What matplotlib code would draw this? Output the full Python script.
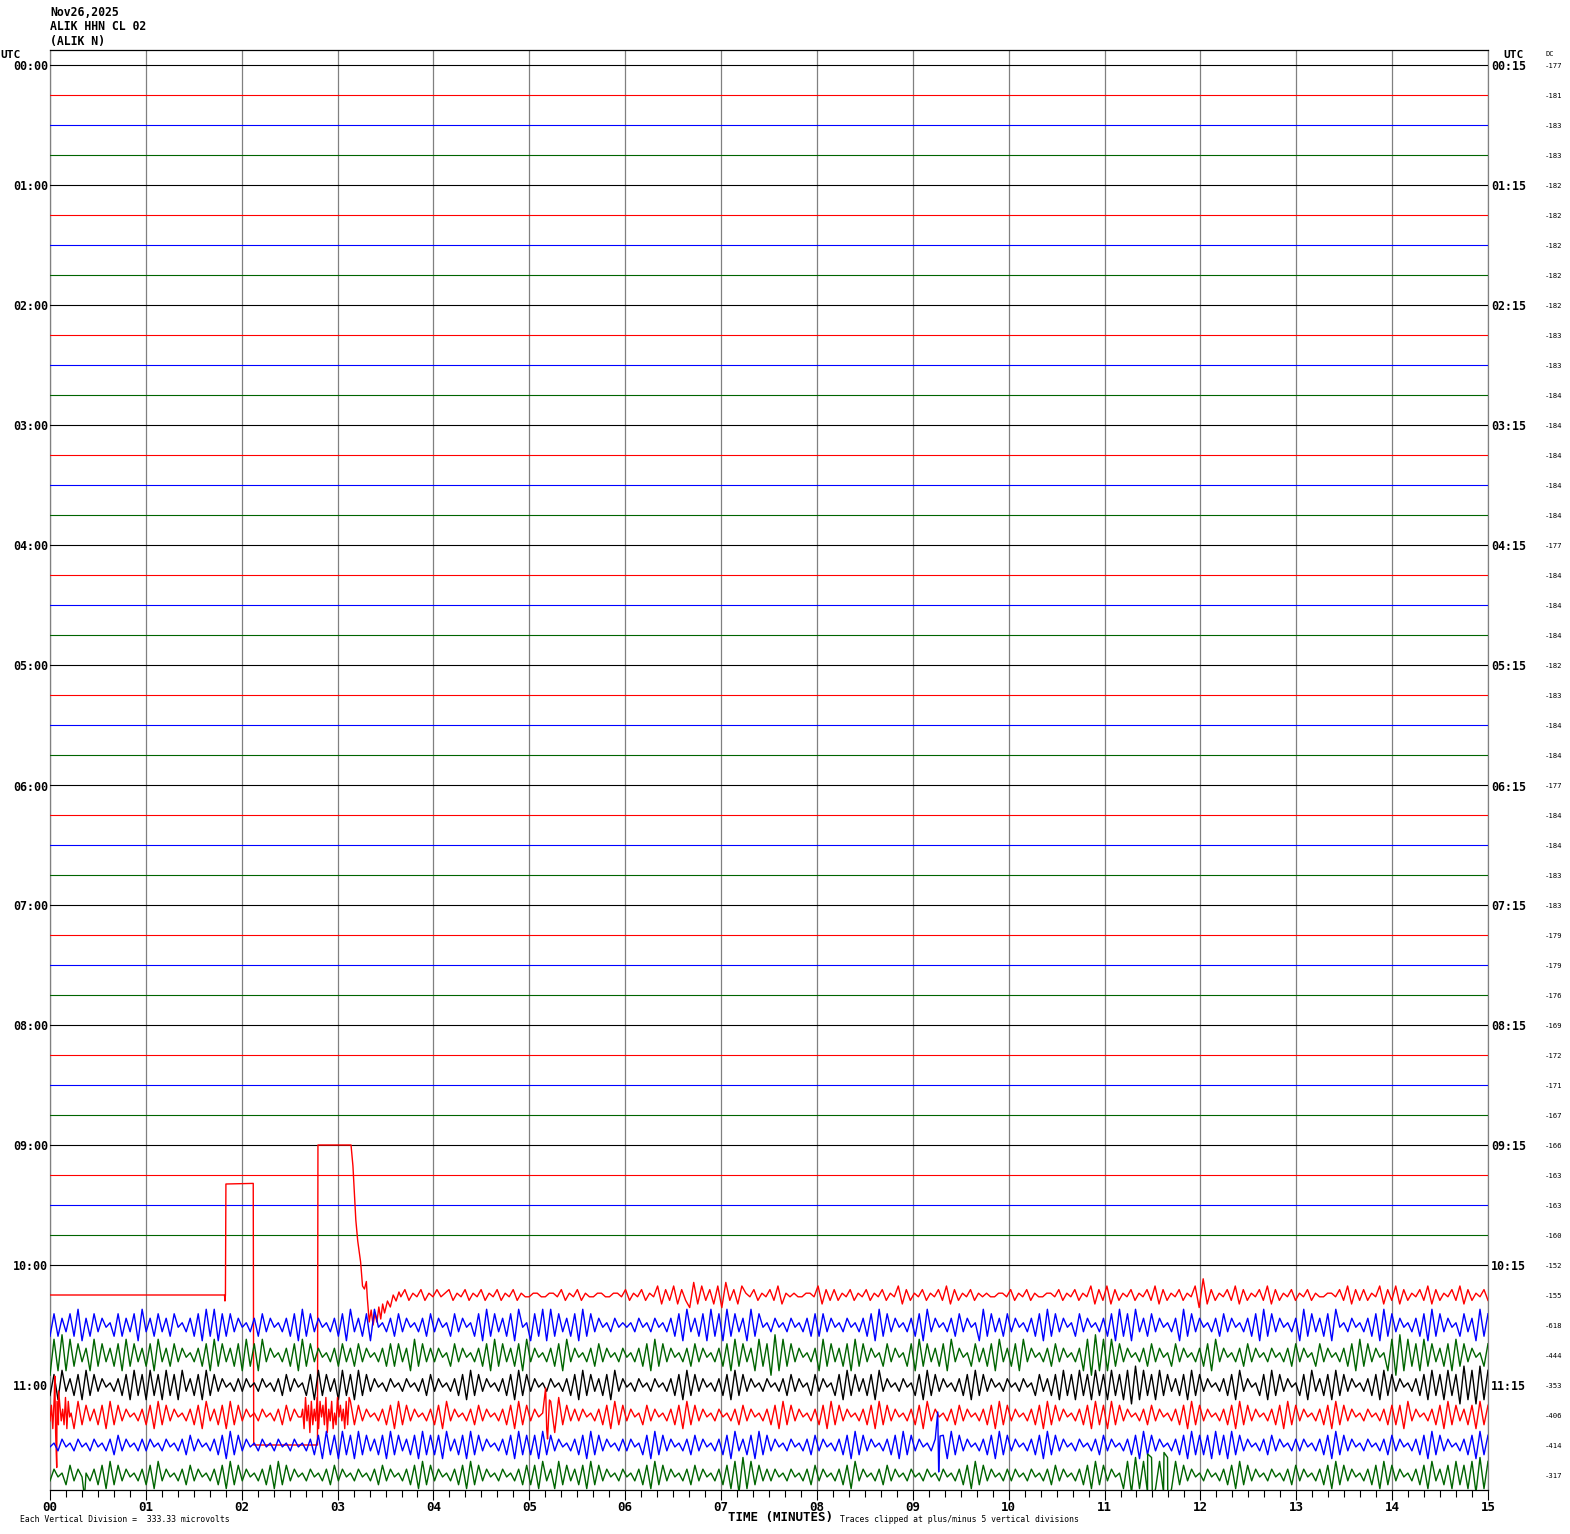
import numpy as np
import matplotlib
matplotlib.use("Agg")
import matplotlib.pyplot as plt

# ---------------- data ----------------
header_lines = ["Nov26,2025", "ALIK HHN CL 02", "(ALIK N)"]
left_hour_labels = ["00:00", "01:00", "02:00", "03:00", "04:00", "05:00",
                    "06:00", "07:00", "08:00", "09:00", "10:00", "11:00"]
right_hour_labels = ["00:15", "01:15", "02:15", "03:15", "04:15", "05:15",
                     "06:15", "07:15", "08:15", "09:15", "10:15", "11:15"]
minute_labels = ["00", "01", "02", "03", "04", "05", "06", "07",
                 "08", "09", "10", "11", "12", "13", "14", "15"]
dc_values = [-177, -181, -183, -183, -182, -182, -182, -182,
             -182, -183, -183, -184, -184, -184, -184, -184,
             -177, -184, -184, -184, -182, -183, -184, -184,
             -177, -184, -184, -183, -183, -179, -179, -176,
             -169, -172, -171, -167, -166, -163, -163, -160,
             -152, -155, -618, -444, -353, -406, -414, -317]
row_colors = ["#000000", "#ff0000", "#0000ff", "#006400"]
n_rows = 48

# row 41 (10:15, red): step transient (minutes, divisions)
red41_break_t = [0.0, 1.82, 1.825, 1.83, 1.835, 2.12, 2.125, 2.79, 2.795, 3.14,
                 3.16, 3.19, 3.21, 3.24, 3.26, 3.28, 3.30, 3.31, 3.33, 3.35,
                 3.37, 3.39, 3.41, 3.43, 3.45, 3.47, 3.49, 3.52, 3.55, 3.58,
                 3.61, 3.64]
red41_break_v = [0.0, 0.0, -0.2, 0.0, 3.7, 3.72, -5.0, -5.0, 5.0, 5.0,
                 4.3, 2.5, 1.8, 1.1, 0.3, 0.2, 0.45, -0.1, -0.9, -0.5,
                 -1.0, -0.6, -0.9, -0.4, -0.8, -0.3, -0.6, -0.2, -0.4, 0.0,
                 -0.2, 0.1]
red41_noise = ("463546354645635463546354" "635463544554455463546354"
               "455445546354635472637263" "182736271836275463546372"
               "545445547263635463546354" "635472635463546372635463"
               "545445546354635445546354" "635472637263546354637263"
               "546354719263546372635463" "726354635463544554637263"
               "635472637263546372635463" "72635463")

blue42 = ("272637281627364527263718" "362736274536271828172736"
          "453627364536271827364536" "271836271845362736453627"
          "364527364527182736271845" "172818273627182736453645"
          "453645364536271836271827" "182736182745364536453627"
          "273645364536271827364536" "271836453627364518273627"
          "364536271827364527364536" "271827183627364536182736"
          "453627364536271827364536" "182736271845364536271827"
          "364536271827364527361827")

green43 = ("081918273618273627182736" "271836273645362718273627"
           "182718364536271827364536" "273627364536272736182736"
           "364527364536271827362718" "364536271836453627364536"
           "453627182736453627364536" "271827361827091827364536"
           "182736271827364527364527" "182736271836452736271836"
           "271836453627364536180918" "182736453627364527364536"
           "271836453627364536453627" "364527364536271827364518"
           "091827182736271827364527")

black44 = ("271836271827364536271827" "182718271836271827364536"
           "364536453627364527182736" "182718273645364536453627"
           "364536271827364536271827" "364536453627182736271836"
           "453645364536271827364536" "271827364536453627364527"
           "364527182736271836453645" "271827364536271827364536"
           "453645273627182718271827" "182718091827182736271827"
           "364536271836452718273645" "271836271827364536271827"
           "364536271827182709180918")

red45 = ("091827182736271827364536" "271827364536271836271827"
         "364536453627364527180918" "091827364536271827364536"
         "271836453627364536271827" "364518092736364536271827"
         "364527364536271827364536" "453627364536271827364536"
         "271827364536271827364536" "271836453627364536271827"
         "364536271827364536271827" "182736453627364536271827"
         "364536271827364536271827" "364536271827364536453627"
         "271836453627182736271827")
red45_burst_start = [0.0, 2.62]
red45_burst_end = [0.22, 3.12]
red45_burst = ["3719082736291845",
               "4619370826391847290638152947361829"]
red45_spike_t = [0.05, 0.07, 0.09, 5.17, 5.19, 5.21]
red45_spike_v = [1.3, -1.75, 0.8, 0.9, -0.8, 0.5]

blue46 = ("453645364536453627364536" "364536453627364536271827"
          "364536453645364536271827" "182718273627182736271827"
          "271836271827364536271827" "271827364536271827364536"
          "364527182736453627364536" "271836271827364536453627"
          "364536271827364536271827" "364536271827364536271827"
          "364536271827364536453627" "364536271827364536271827"
          "271827182736453627364536" "364536271827364536453627"
          "364536271827364536271827")
blue46_spike_t = [9.26, 9.27, 9.285]
blue46_spike_v = [1.1, -0.9, 0.3]

green47 = ("364527364536271827364536" "271836453627364536271827"
           "364536271827364536453627" "364536453627364536271827"
           "364536271827364536453627" "271836182736271827364536"
           "453627182736453627364536" "271809182736364536453627"
           "364536271836453627364536" "453645364536271827364536"
           "364536453627364536271827" "364518091809180918273645"
           "364536271827364536453627" "364536271827364536271827"
           "364536271836271827180918")
green47_spike_t = [0.36, 11.45, 11.5, 11.62, 11.66]
green47_spike_v = [-0.75, 0.7, -0.8, 0.75, -0.9]

# ---------------- helpers ----------------
def decode(s, t0, t1, step):
    d = np.array([int(c) for c in s], dtype=float)
    return np.linspace(t0, t1, len(d)), (d - 4.5) * step


def build(base, step, bursts=(), spikes=()):
    t, v = decode(base, 0.0, 15.0, step)
    for (b0, b1, s) in bursts:
        keep = (t < b0) | (t > b1)
        bt, bv = decode(s, b0, b1, 0.13)
        t = np.concatenate([t[keep], bt])
        v = np.concatenate([v[keep], bv])
    if spikes:
        st, sv = spikes
        t = np.concatenate([t, st])
        v = np.concatenate([v, sv])
    o = np.argsort(t, kind="stable")
    return t[o], v[o]


traces = {}
nt, nv = decode(red41_noise, 3.66, 15.0, 0.12)
traces[41] = (np.concatenate([red41_break_t, nt]),
              np.concatenate([red41_break_v, nv]))
traces[42] = build(blue42, 0.15)
traces[43] = build(green43, 0.15)
traces[44] = build(black44, 0.14)
traces[45] = build(red45, 0.13,
                   bursts=list(zip(red45_burst_start, red45_burst_end, red45_burst)),
                   spikes=(red45_spike_t, red45_spike_v))
traces[46] = build(blue46, 0.13, spikes=(blue46_spike_t, blue46_spike_v))
traces[47] = build(green47, 0.13, spikes=(green47_spike_t, green47_spike_v))

# ---------------- figure ----------------
W, H = 1570, 1534
fig = plt.figure(figsize=(W / 100, H / 100), dpi=100)
fig.patch.set_facecolor("white")
ax = fig.add_axes([50 / W, 1 - 1490 / H, 1438 / W, 1440 / H])

for r in range(n_rows):
    col = row_colors[r % 4]
    if r in traces:
        t, v = traces[r]
        ax.plot(t, r - np.clip(v, -5, 5), color=col, lw=1.0, zorder=3)
    else:
        ax.plot([0, 15], [r, r], color=col, lw=0.8, zorder=3)

ax.set_xlim(0, 15)
ax.set_ylim(n_rows - 0.5, -0.5)
ax.set_yticks([])
ax.set_xticks(range(16))
ax.set_xticklabels(minute_labels, family="DejaVu Sans Mono",
                   fontweight="bold", fontsize=9)
ax.set_xticks(np.arange(0, 15.01, 1 / 6), minor=True)
ax.tick_params(axis="x", which="major", direction="out", length=7,
               width=0.8, pad=1, color="black")
ax.tick_params(axis="x", which="minor", direction="out", length=5,
               width=0.8, color="black")
ax.set_axisbelow(True)
ax.xaxis.grid(True, which="major", color="#808080", lw=0.9)
for s in ("left", "right"):
    ax.spines[s].set_color("#808080")
for s in ("top", "bottom"):
    ax.spines[s].set_color("black")
for s in ax.spines.values():
    s.set_linewidth(0.9)


def ftext(x, y, s, **kw):
    fig.text(x / W, 1 - y / H, s, **kw)


mono = "DejaVu Sans Mono"
for i, line in enumerate(header_lines):
    ftext(50, 12 + 15 * i, line, family=mono, fontsize=8.3, fontweight="bold",
          va="center", ha="left")

ftext(0, 55, "UTC", family=mono, fontsize=8, fontweight="bold", va="center")
ftext(1513, 55, "UTC", family=mono, fontsize=8, fontweight="bold",
      va="center", ha="center")
ftext(1545, 54, "DC", family=mono, fontsize=5, va="center")

for i, lab in enumerate(left_hour_labels):
    y = 65 + 120 * i
    ftext(48, y + 2, lab, family=mono, fontsize=8.4, fontweight="bold",
          ha="right", va="center")
for i, lab in enumerate(right_hour_labels):
    y = 65 + 120 * i
    ftext(1491, y + 2, lab, family=mono, fontsize=8.4, fontweight="bold",
          ha="left", va="center")
for r, dc in enumerate(dc_values):
    ftext(1545, 66 + 30 * r, str(dc), family=mono, fontsize=5.2,
          ha="left", va="center")

ftext(781, 1518, "TIME (MINUTES)", family=mono, fontsize=9, fontweight="bold",
      ha="center", va="center")
ftext(20, 1519, "Each Vertical Division =  333.33 microvolts", family=mono,
      fontsize=5.9, ha="left", va="center")
ftext(840, 1519, "Traces clipped at plus/minus 5 vertical divisions",
      family=mono, fontsize=5.9, ha="left", va="center")

fig.savefig("out.png", dpi=100, facecolor="white")
